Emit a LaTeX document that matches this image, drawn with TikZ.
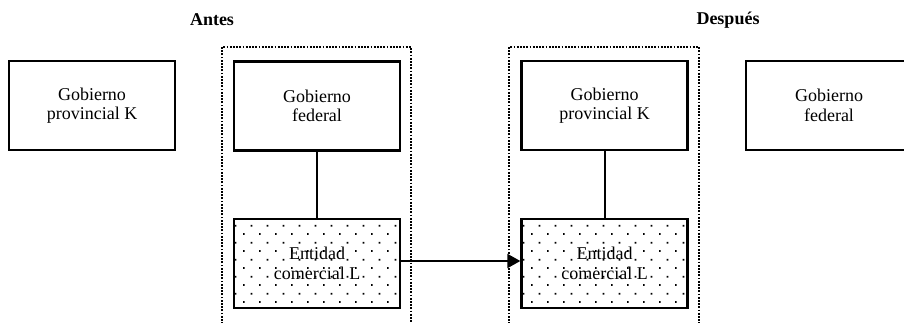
\documentclass[tikz,border=0pt]{standalone}
\usepackage{fontspec}
\setmainfont{Liberation Serif}
\usetikzlibrary{arrows.meta,patterns.meta}
\pgfdeclarepattern{
  name=stagdots,
  type=uncolored,
  bottom left={\pgfpoint{0pt}{0pt}},
  top right={\pgfpoint{16pt}{16.6pt}},
  tile size={\pgfpoint{16pt}{16.6pt}},
  code={
    \pgfpathrectangle{\pgfpoint{3.2pt}{3.2pt}}{\pgfpoint{1.8pt}{1.8pt}}
    \pgfpathrectangle{\pgfpoint{11.2pt}{11.5pt}}{\pgfpoint{1.8pt}{1.8pt}}
    \pgfusepath{fill}
  }
}
\tikzset{
  entitybox/.style={draw, line width=2.3pt, minimum width=166pt, minimum height=89pt,
    inner sep=0pt, align=center, font=\fontsize{18}{19.5}\selectfont},
  dotbox/.style={entitybox, pattern=stagdots, pattern color=black},
  groupframe/.style={draw, line width=2.6pt, dash pattern=on 1.8pt off 1.4pt},
  headlabel/.style={font=\fontsize{18}{20}\selectfont\bfseries, inner sep=0pt},
  link/.style={line width=2pt},
}
\begin{document}
\begin{tikzpicture}[x=1pt,y=1pt]
\useasboundingbox (0,0) rectangle (904,-322);
% group frames
\draw[groupframe] (222,-340) -- (222,-47) -- (411,-47) -- (411,-340);
\draw[groupframe] (509,-340) -- (509,-47) -- (699,-47) -- (699,-340);
% labels
\node[headlabel] (antes) at (212,-20) {Antes};
\node[headlabel] (despues) at (728,-20) {Después};
% boxes
\node[entitybox] (leftK) at (92,-105.5) {Gobierno\\provincial K};
\node[entitybox] (fedA) at (317,-106) {Gobierno\\federal};
\node[dotbox] (entA) at (317,-263.5) {Entidad\\comercial L};
\node[entitybox] (provB) at (604.5,-105.5) {Gobierno\\provincial K};
\node[dotbox] (entB) at (604.5,-263.5) {Entidad\\comercial L};
\node[entitybox] (fedR) at (829,-105.5) {Gobierno\\federal};
% connectors
\draw[link] (fedA.south) -- (entA.north);
\draw[link] (provB.south) -- (entB.north);
\draw[link, -{Triangle[length=13pt,width=14pt]}] ([yshift=2.5pt]entA.east) -- ([yshift=2.5pt]entB.west);
\end{tikzpicture}
\end{document}
